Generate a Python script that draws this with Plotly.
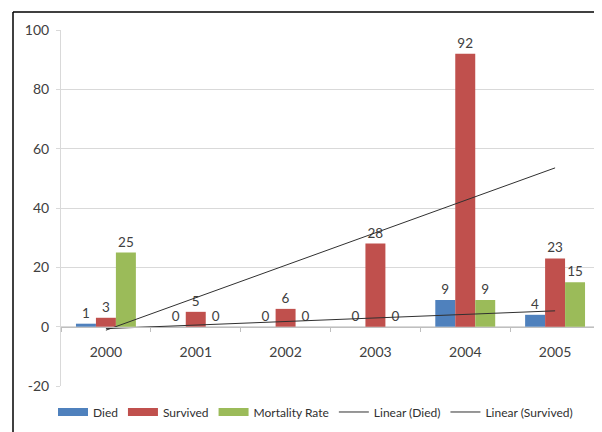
import numpy as np
import plotly.graph_objects as go

years = ["2000", "2001", "2002", "2003", "2004", "2005"]
died = [1, 0, 0, 0, 9, 4]
survived = [3, 5, 6, 28, 92, 23]
mortality = [25, 0, 0, 0, 9, 15]
y_ticks = [-20, 0, 20, 40, 60, 80, 100]

FONT = "Lato"
LABEL_COLOR = "#404040"
SERIES = [("Died", died, "#4F81BD"),
          ("Survived", survived, "#C0504D"),
          ("Mortality Rate", mortality, "#9BBB59")]

def linear_fit(values):
    xs = np.arange(len(values))
    slope, intercept = np.polyfit(xs, values, 1)
    return [years[0], years[-1]], [intercept, intercept + slope * (len(values) - 1)]

fig = go.Figure()
for name, vals, color in SERIES:
    fig.add_trace(go.Bar(
        x=years, y=vals, name=name, showlegend=False,
        marker=dict(color=color, line=dict(width=0)),
        text=[str(v) for v in vals], textposition="outside", cliponaxis=False,
        textfont=dict(family=FONT, size=13.5, color=LABEL_COLOR),
    ))

for name, vals in [("Linear (Died)", died), ("Linear (Survived)", survived)]:
    tx, ty = linear_fit(vals)
    fig.add_trace(go.Scatter(
        x=tx, y=ty, mode="lines", name=name, showlegend=False,
        line=dict(color="#303030", width=1),
    ))

# legend proxies (wide rectangles for bars, thin lines for trendlines)
for name, _, color in SERIES:
    fig.add_trace(go.Scatter(x=[None], y=[None], mode="lines", name=name,
                             line=dict(color=color, width=8)))
for name in ["Linear (Died)", "Linear (Survived)"]:
    fig.add_trace(go.Scatter(x=[None], y=[None], mode="lines", name=name,
                             line=dict(color="#303030", width=1)))

# page has an 8px body margin, so the figure is 8px smaller and offset
W, H = 594, 424
L, R, T, B = 53, 2, 22, 46
PW, PH = W - L - R, H - T - B

fig.update_layout(
    width=W, height=H,
    margin=dict(l=L, r=R, t=T, b=B, autoexpand=False),
    paper_bgcolor="white", plot_bgcolor="white",
    barmode="group", bargap=0.333, bargroupgap=0,
    font=dict(family=FONT, size=12, color=LABEL_COLOR),
    showlegend=True,
    legend=dict(orientation="h", x=(45 - L) / PW, xanchor="left", y=-0.073, yanchor="middle",
                font=dict(family=FONT, size=12, color="#303030"),
                itemwidth=30, tracegroupgap=0, traceorder="normal"),
)

fig.update_yaxes(
    range=[-20, 100], tickvals=y_ticks, ticktext=[str(v) for v in y_ticks],
    showgrid=True, gridcolor="#D9D9D9", gridwidth=1,
    zeroline=True, zerolinecolor="#D9D9D9", zerolinewidth=1,
    showline=True, linecolor="#D9D9D9", linewidth=1,
    ticks="outside", ticklen=4, tickcolor="#D9D9D9",
    tickfont=dict(family=FONT, size=14, color=LABEL_COLOR),
    ticklabelstandoff=4,
)
fig.update_xaxes(
    type="category", anchor="free", position=1/6,
    showgrid=False, zeroline=False,
    showline=True, linecolor="#BFBFBF", linewidth=1,
    ticks="outside", ticklen=4, tickcolor="#BFBFBF", tickson="boundaries",
    tickfont=dict(family=FONT, size=14, color=LABEL_COLOR),
    ticklabelstandoff=13,
)

# outer chart frame (top and left edges visible)
fx = (5 - L) / PW
fy = (H - B - 4) / PH
fig.add_shape(type="line", xref="paper", yref="paper",
              x0=fx, x1=1.02, y0=fy, y1=fy,
              line=dict(color="black", width=1.5), layer="above")
fig.add_shape(type="line", xref="paper", yref="paper",
              x0=fx, x1=fx, y0=fy, y1=-0.2,
              line=dict(color="black", width=1.5), layer="above")

fig.write_html("out.html")
